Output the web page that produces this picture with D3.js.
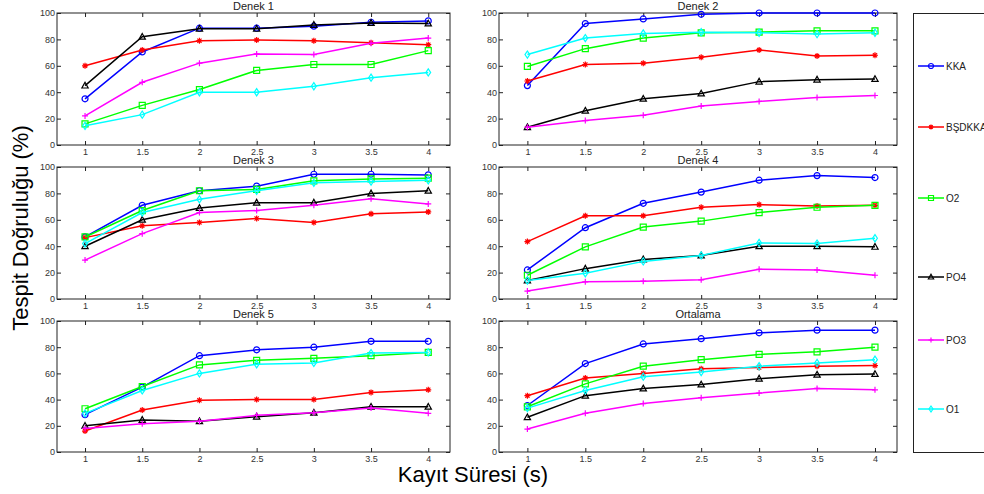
<!DOCTYPE html>
<html>
<head>
<meta charset="utf-8">
<script src="https://cdn.jsdelivr.net/npm/d3@7"></script>
<style>
  body { margin: 0; background: #fff; }
  text { font-family: "Liberation Sans", Arial, sans-serif; }
</style>
</head>
<body>
<svg width="984" height="494"></svg>
<script>
var svg = d3.select("svg"),
    width = +svg.attr("width"),
    height = +svg.attr("height");

// x values (recording time, s)
var durations = [1, 1.5, 2, 2.5, 3, 3.5, 4];
var xTicks = [1, 1.5, 2, 2.5, 3, 3.5, 4];
var yTicks = [0, 20, 40, 60, 80, 100];

var methods = ["KKA", "BŞDKKA", "O2", "PO4", "PO3", "O1"];
var colors = ["#0000ff", "#ff0000", "#00ff00", "#000000", "#ff00ff", "#00ffff"];
var markers = ["circle", "star", "square", "triangle", "plus", "diamond"];

var titles = ["Denek 1", "Denek 2", "Denek 3", "Denek 4", "Denek 5", "Ortalama"];

// accuracy (%) per method, one array per panel
var denek1 = [
  [35, 70.5, 88.5, 88.5, 90, 93, 94],
  [60, 72, 79, 79.5, 79, 77.5, 76],
  [16, 30, 42, 56.5, 61, 61, 71.5],
  [45, 82, 88, 88, 91, 92.5, 92],
  [22, 47.5, 62, 69, 68.5, 77, 81],
  [14.5, 23, 40, 40, 44.5, 51, 55]
];
var denek2 = [
  [45, 92, 95.5, 99, 100, 100, 100],
  [48.5, 61, 62, 66.5, 72, 67.5, 68],
  [59.5, 73, 81, 85, 85.5, 86.5, 86.5],
  [13.5, 26, 35, 39, 48, 49.5, 50],
  [13.5, 18.5, 22.5, 29.5, 33, 36, 37.5],
  [68.5, 81, 84.5, 85.5, 85, 84, 85]
];
var denek3 = [
  [47, 71, 82, 85.5, 94.5, 94.5, 94],
  [46.5, 55.5, 58, 61, 58, 64.5, 66],
  [47, 67, 82, 83, 89.5, 91, 91.5],
  [40, 60, 69, 73, 73, 80, 82],
  [29.5, 49.5, 65.5, 67, 71, 76, 72],
  [42, 65.5, 75.5, 82, 88, 89, 90]
];
var denek4 = [
  [22, 54, 72.5, 81, 90, 93.5, 92],
  [43.5, 63, 63, 69.5, 71.5, 70.5, 71],
  [18, 39.5, 54.5, 59, 65.5, 69.5, 71],
  [14, 23, 30, 33, 40, 40, 39.5],
  [6, 13, 13.5, 14.5, 22.5, 22, 18],
  [14, 19.5, 28.5, 33, 42.5, 42, 46]
];
var denek5 = [
  [28.5, 49.5, 73.5, 78, 80, 84.5, 84.5],
  [16, 32, 39.5, 40, 40, 45.5, 47.5],
  [33, 50, 66.5, 70, 71.5, 73.5, 76],
  [20, 24.5, 23.5, 27, 30, 34.5, 34.5],
  [18, 21.5, 23.5, 28, 30, 33.5, 29.5],
  [29.5, 47, 60, 67, 68, 75.5, 76]
];
var ortalama = [
  [35.5, 67.5, 82.5, 86.5, 91, 93, 93],
  [43, 56.5, 60, 63.5, 64.5, 65.5, 66],
  [34.5, 52, 65.5, 70.5, 74.5, 76.5, 80],
  [26.5, 43, 48.5, 51.5, 56, 59, 59.5],
  [17.5, 29.5, 37, 41.5, 45, 48.5, 47.5],
  [33.5, 47, 57.5, 61, 65.5, 68, 70.5]
];
var panelData = [denek1, denek2, denek3, denek4, denek5, ortalama];

var colX = [[57, 450], [499, 897]];
var rowY = [[13, 145], [167, 299], [321, 452]];

function markerPath(type, s) {
  var p = d3.path();
  if (type === "circle") {
    p.moveTo(s, 0); p.arc(0, 0, s, 0, 2 * Math.PI);
  } else if (type === "square") {
    p.rect(-s, -s, 2 * s, 2 * s);
  } else if (type === "triangle") {
    p.moveTo(0, -s * 1.1); p.lineTo(s * 1.05, s * 0.8); p.lineTo(-s * 1.05, s * 0.8); p.closePath();
  } else if (type === "diamond") {
    p.moveTo(0, -s * 1.2); p.lineTo(s * 0.8, 0); p.lineTo(0, s * 1.2); p.lineTo(-s * 0.8, 0); p.closePath();
  } else if (type === "plus") {
    p.moveTo(-s, 0); p.lineTo(s, 0); p.moveTo(0, -s); p.lineTo(0, s);
  } else if (type === "star") {
    var d = s * 0.7;
    p.moveTo(-s, 0); p.lineTo(s, 0); p.moveTo(0, -s); p.lineTo(0, s);
    p.moveTo(-d, -d); p.lineTo(d, d); p.moveTo(-d, d); p.lineTo(d, -d);
  }
  return p.toString();
}

panelData.forEach(function(series, k) {
  var c = k % 2, r = Math.floor(k / 2);
  var x = d3.scaleLinear().domain([0.755, 4.19]).range(colX[c]);
  var y = d3.scaleLinear().domain([0, 100]).range([rowY[r][1], rowY[r][0]]);

  var g = svg.append("g").attr("class", "panel");

  g.append("g")
      .attr("transform", "translate(0," + y(0) + ")")
      .call(d3.axisBottom(x).tickValues(xTicks).tickSizeInner(-4).tickSizeOuter(0).tickPadding(4)
        .tickFormat(d3.format("")));
  g.append("g")
      .attr("transform", "translate(0," + y(100) + ")")
      .call(d3.axisTop(x).tickValues(xTicks).tickSizeInner(-4).tickSizeOuter(0).tickFormat(""));
  g.append("g")
      .attr("transform", "translate(" + x.range()[0] + ",0)")
      .call(d3.axisLeft(y).tickValues(yTicks).tickSizeInner(-4).tickSizeOuter(0).tickPadding(2));
  g.append("g")
      .attr("transform", "translate(" + x.range()[1] + ",0)")
      .call(d3.axisRight(y).tickValues(yTicks).tickSizeInner(-4).tickSizeOuter(0).tickFormat(""));

  g.selectAll(".domain").remove();
  g.selectAll(".tick line").attr("stroke", "#222");
  g.selectAll(".tick text").attr("fill", "#333").style("font-size", "9px");

  g.append("rect")
      .attr("x", x.range()[0]).attr("y", y(100))
      .attr("width", x.range()[1] - x.range()[0]).attr("height", y(0) - y(100))
      .attr("fill", "none").attr("stroke", "#222").attr("stroke-width", 1);

  var line = d3.line()
      .x(function(d, i) { return x(durations[i]); })
      .y(function(d) { return y(d); });

  series.forEach(function(vals, m) {
    g.append("path")
        .datum(vals)
        .attr("d", line)
        .attr("fill", "none")
        .attr("stroke", colors[m])
        .attr("stroke-width", 1.5);
    g.selectAll(".mk" + m)
        .data(vals)
      .enter().append("path")
        .attr("class", "mk" + m)
        .attr("transform", function(d, i) { return "translate(" + x(durations[i]) + "," + y(d) + ")"; })
        .attr("d", markerPath(markers[m], 3))
        .attr("fill", "none")
        .attr("stroke", colors[m])
        .attr("stroke-width", 1.2);
  });

  g.append("text")
      .attr("x", (x.range()[0] + x.range()[1]) / 2)
      .attr("y", y(100) - 3)
      .attr("text-anchor", "middle")
      .style("font-size", "11px")
      .attr("fill", "#222")
      .text(titles[k]);
});

// legend
var legend = svg.append("g");
legend.append("rect")
    .attr("x", 913.5).attr("y", 13.5)
    .attr("width", 100).attr("height", 439)
    .attr("fill", "none").attr("stroke", "#222");

var legendY = [66, 127, 198, 277, 340, 409];
methods.forEach(function(name, m) {
  var ly = legendY[m];
  legend.append("line")
      .attr("x1", 918).attr("x2", 944).attr("y1", ly).attr("y2", ly)
      .attr("stroke", colors[m]).attr("stroke-width", 1.5);
  legend.append("path")
      .attr("transform", "translate(931," + ly + ")")
      .attr("d", markerPath(markers[m], 2.5))
      .attr("fill", "none").attr("stroke", colors[m]).attr("stroke-width", 1.2);
  legend.append("text")
      .attr("x", 946).attr("y", ly + 4)
      .style("font-size", "10px")
      .attr("fill", "#222")
      .text(name);
});

// axis titles
svg.append("text")
    .attr("transform", "translate(28,228) rotate(-90)")
    .attr("text-anchor", "middle")
    .style("font-size", "22px")
    .text("Tespit Doğruluğu (%)");

svg.append("text")
    .attr("x", 473).attr("y", 482)
    .attr("text-anchor", "middle")
    .style("font-size", "22px")
    .text("Kayıt Süresi (s)");
</script>
</body>
</html>
